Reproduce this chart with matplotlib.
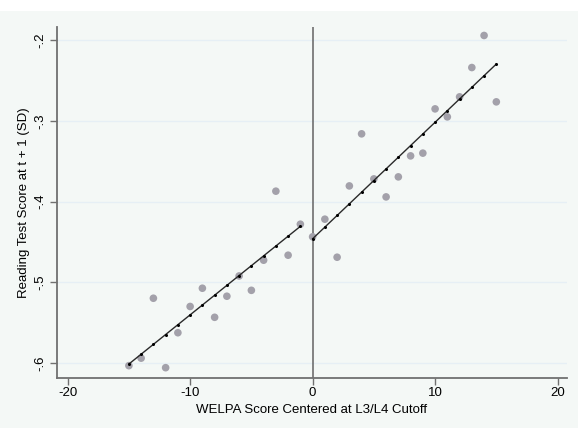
import numpy as np
import matplotlib
matplotlib.use("Agg")
import matplotlib.pyplot as plt
from matplotlib.patches import Rectangle

plt.rcParams['font.family'] = ['Liberation Sans', 'DejaVu Sans']
plt.rcParams['axes.unicode_minus'] = False

# Binned means of the outcome by WELPA score (centered at the cutoff)
x_left = list(range(-15, 0))
y_left = [-0.6033, -0.5940, -0.5198, -0.6058, -0.5625, -0.5300, -0.5074,
          -0.5434, -0.5173, -0.4922, -0.5100, -0.4727, -0.3872, -0.4665, -0.4281]
x_right = list(range(0, 16))
y_right = [-0.4437, -0.4219, -0.4690, -0.3807, -0.3162, -0.3720, -0.3943,
           -0.3695, -0.3435, -0.3401, -0.2853, -0.2952, -0.2704, -0.2341,
           -0.1944, -0.2766]

xticks = [-20, -10, 0, 10, 20]
yticks = [-0.6, -0.5, -0.4, -0.3, -0.2]
ytick_labels = ['-.6', '-.5', '-.4', '-.3', '-.2']
xlabel = 'WELPA Score Centered at L3/L4 Cutoff'
ylabel = 'Reading Test Score at t + 1 (SD)'

W, H = 578, 428
bg = '#f4f8f6'
fig = plt.figure(figsize=(W / 100, H / 100), dpi=100, facecolor=bg)
fig.patches.append(Rectangle((0, 1 - 11 / H), 1, 11 / H, transform=fig.transFigure,
                             facecolor='white', edgecolor='none', zorder=0))

ax = fig.add_axes([57 / W, (H - 377.7) / H, (567 - 57) / W, (377.7 - 27) / H])
ax.set_facecolor(bg)

# Scatter of bin means
ax.scatter(x_left + x_right, y_left + y_right, s=30, color='#a3a1aa',
           edgecolors='none', zorder=3)

# Separate linear fits on each side of the cutoff
for xs, ys in ((x_left, y_left), (x_right, y_right)):
    xs = np.asarray(xs, float)
    b1, b0 = np.polyfit(xs, np.asarray(ys), 1)
    ax.plot(xs, b0 + b1 * xs, color='#2a2a2a', lw=1.0, marker='o',
            markersize=1.2, markerfacecolor='black', markeredgecolor='black',
            zorder=4)

ax.axvline(0, color='#6f6f6f', lw=1.2, zorder=2)

ax.set_xlim(-20.87, 20.77)
ax.set_ylim(-0.6182, -0.1839)
ax.set_xticks(xticks)
ax.set_yticks(yticks)
ax.set_yticklabels(ytick_labels, rotation=90, va='center')
ax.grid(axis='y', color='#e6eff5', lw=1.0, zorder=0)
ax.set_axisbelow(True)

for s in ('top', 'right'):
    ax.spines[s].set_visible(False)
for s in ('left', 'bottom'):
    ax.spines[s].set_color('#707070')
    ax.spines[s].set_linewidth(1.3)

ax.tick_params(axis='both', colors='#707070', labelcolor='black', length=5,
               width=1.0, labelsize=9.5)
ax.tick_params(axis='y', pad=3)
ax.tick_params(axis='x', pad=2)

ax.set_xlabel(xlabel, fontsize=9.5, labelpad=3)
ax.set_ylabel(ylabel, fontsize=9.5, labelpad=3)

fig.savefig('out.png', dpi=100, facecolor=fig.get_facecolor())
